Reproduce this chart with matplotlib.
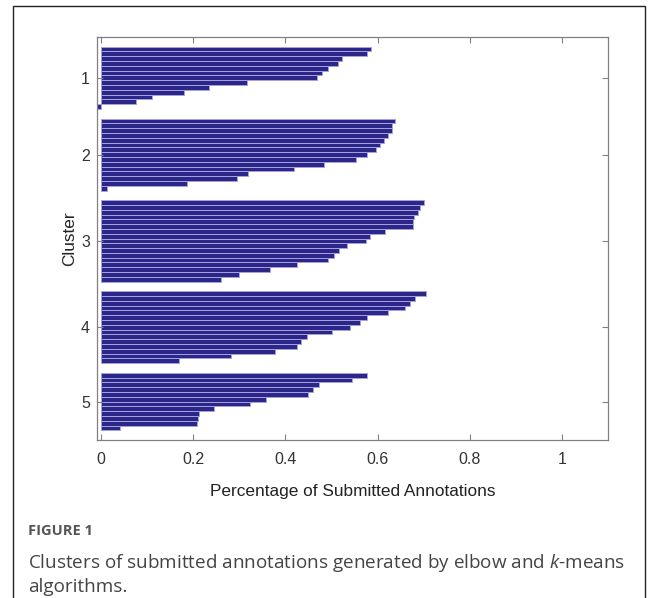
import matplotlib
matplotlib.use("Agg")
import matplotlib.pyplot as plt
from matplotlib.patches import Rectangle

# Valores de silueta por cluster (ordenados de mayor a menor)
cluster_1 = [0.585, 0.577, 0.523, 0.513, 0.493, 0.479, 0.468, 0.316, 0.233, 0.179, 0.110, 0.076, -0.009]
cluster_2 = [0.638, 0.631, 0.631, 0.622, 0.614, 0.605, 0.596, 0.578, 0.554, 0.484, 0.419, 0.318, 0.295, 0.187, 0.013]
cluster_3 = [0.700, 0.691, 0.688, 0.678, 0.677, 0.676, 0.616, 0.583, 0.574, 0.534, 0.517, 0.505, 0.493, 0.424, 0.366, 0.300, 0.261]
cluster_4 = [0.706, 0.681, 0.671, 0.660, 0.622, 0.576, 0.562, 0.539, 0.502, 0.447, 0.434, 0.424, 0.377, 0.282, 0.169]
cluster_5 = [0.576, 0.544, 0.472, 0.459, 0.449, 0.357, 0.324, 0.244, 0.212, 0.210, 0.207, 0.040]
clusters = [cluster_1, cluster_2, cluster_3, cluster_4, cluster_5]
cluster_labels = ["1", "2", "3", "4", "5"]
x_ticks = [0, 0.2, 0.4, 0.6, 0.8, 1]
x_tick_labels = ["0", "0.2", "0.4", "0.6", "0.8", "1"]

BAR_COLOR = "#2b2687"
EDGE_COLOR = "#a4a1e0"
AXIS_COLOR = "#808080"
SPACE = 2  # huecos entre clusters, como en silhouette de MATLAB


def build_positions(groups):
    values, positions, centers = [], [], []
    pos = SPACE
    for group in groups:
        start = pos + 1
        for v in group:
            pos += 1
            values.append(v)
            positions.append(pos)
        centers.append((start + pos) / 2)  # centro del cluster para el tick
        pos += SPACE
    return values, positions, centers, pos


def main():
    values, positions, centers, total = build_positions(clusters)

    fig = plt.figure(figsize=(6.58, 5.98), dpi=100)
    # marco de la tarjeta
    fig.patches.append(Rectangle((13 / 658, -0.05), (645 - 13) / 658, 1.05 - 6 / 598,
                                 transform=fig.transFigure, fill=False,
                                 edgecolor="#222222", linewidth=1.0))

    ax = fig.add_axes([97 / 658, 1 - 440 / 598, (608 - 97) / 658, (440 - 37) / 598])
    ax.barh(positions, values, height=1.0, color=BAR_COLOR,
            edgecolor=EDGE_COLOR, linewidth=0.7)

    ax.set_ylim(total + 0.5, 0.5)
    ax.set_xlim(-0.009, 1.1)
    ax.set_yticks(centers)
    ax.set_yticklabels(cluster_labels)
    ax.set_xticks(x_ticks)
    ax.set_xticklabels(x_tick_labels)

    for spine in ax.spines.values():
        spine.set_color(AXIS_COLOR)
        spine.set_linewidth(0.9)
    ax.tick_params(direction="in", length=4, width=0.8, color=AXIS_COLOR,
                   top=True, right=True, labelsize=11.5, labelcolor="#333333")
    ax.tick_params(axis="x", pad=9)
    ax.tick_params(axis="y", pad=5)
    for lbl in ax.get_xticklabels() + ax.get_yticklabels():
        lbl.set_family("Liberation Sans")

    ax.set_xlabel("Percentage of Submitted Annotations", fontsize=12.4,
                  family="Liberation Sans", color="#222222", labelpad=12)
    ax.set_ylabel("Cluster", fontsize=12.4, family="Liberation Sans",
                  color="#222222", labelpad=3)

    # pie de figura
    plt.rcParams["mathtext.fontset"] = "custom"
    plt.rcParams["mathtext.it"] = "Open Sans:italic"
    plt.rcParams["mathtext.rm"] = "Open Sans"
    fig.text(28 / 658, 1 - 531 / 598, "FIGURE 1", fontsize=10.5, weight="bold",
             family="Open Sans", color="#555555", va="center")
    fig.text(28 / 658, 1 - 563 / 598,
             "Clusters of submitted annotations generated by elbow and $k$-means",
             fontsize=13.6, family="Open Sans", color="#444444", va="center")
    fig.text(28 / 658, 1 - 592 / 598, "algorithms.", fontsize=13.6,
             family="Open Sans", color="#444444", va="baseline")

    fig.savefig("out.png", dpi=100)


if __name__ == "__main__":
    main()
